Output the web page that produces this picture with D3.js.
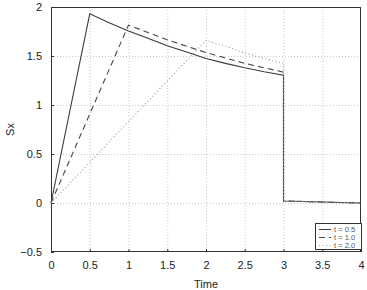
<!DOCTYPE html>
<html><head><meta charset="utf-8">
<script src="https://cdn.jsdelivr.net/npm/d3@7"></script>
<style>body{margin:0;background:#fff}svg{display:block}text{font-family:"Liberation Sans",Arial,sans-serif}</style>
</head><body><svg id="c" width="367" height="290"></svg>
<script>
const xTicks = [0, 0.5, 1, 1.5, 2, 2.5, 3, 3.5, 4];
const yTicks = [-0.5, 0, 0.5, 1, 1.5, 2];
const seriesNames = ["t = 0.5", "t = 1.0", "t = 2.0"];
const s05 = [[0,0],[0.5,1.93],[0.75,1.84],[1,1.755],[1.25,1.68],[1.5,1.605],[1.75,1.54],[2,1.475],[2.25,1.425],[2.5,1.38],[2.75,1.34],[3,1.305],[3,0.02],[3.5,0.01],[4,0.0]];
const s10 = [[0,0],[1,1.815],[1.25,1.74],[1.5,1.665],[1.75,1.6],[2,1.535],[2.25,1.48],[2.5,1.425],[2.75,1.38],[3,1.335],[3,0.02],[3.5,0.01],[4,0.0]];
const s20 = [[0,0],[2,1.66],[2.25,1.6],[2.5,1.53],[2.75,1.475],[3,1.425],[3,0.02],[3.5,0.01],[4,0.0]];
const seriesData = [s05, s10, s20];
const styles = [
  {stroke:"#3c3c3c", dash:null},
  {stroke:"#4a4a4a", dash:"6,4"},
  {stroke:"#9a9a9a", dash:"1,2.5"}
];

const svg = d3.select("#c");
const m = {l:51, r:6, t:7, b:38};
const W = 367, H = 290;
const x = d3.scaleLinear().domain([0,4]).range([m.l, W-m.r]);
const y = d3.scaleLinear().domain([-0.5,2]).range([H-m.b, m.t]);
const fmt = d => d < 0 ? "\u2212" + Math.abs(d) : String(d);

// grid
const g = svg.append("g");
g.selectAll(".gx").data(xTicks.slice(1,-1)).join("line")
  .attr("x1", d=>x(d)+0.5).attr("x2", d=>x(d)+0.5).attr("y1", m.t).attr("y2", H-m.b)
  .attr("stroke","#c8c8c8").attr("stroke-dasharray","1,2");
g.selectAll(".gy").data(yTicks.slice(1,-1)).join("line")
  .attr("y1", d=>Math.round(y(d))+0.5).attr("y2", d=>Math.round(y(d))+0.5).attr("x1", m.l).attr("x2", W-m.r)
  .attr("stroke","#c8c8c8").attr("stroke-dasharray","1,2");

// axes
const xa = svg.append("g").attr("transform", `translate(0,${H-m.b})`)
  .call(d3.axisBottom(x).tickValues(xTicks).tickFormat(fmt).tickSizeInner(-3).tickSizeOuter(0).tickPadding(9));
const ya = svg.append("g").attr("transform", `translate(${m.l},0)`)
  .call(d3.axisLeft(y).tickValues(yTicks).tickFormat(fmt).tickSizeInner(-3).tickSizeOuter(0).tickPadding(9));
[xa, ya].forEach(a => {
  a.select(".domain").remove();
  a.selectAll(".tick line").attr("stroke","#333");
  a.selectAll("text").attr("font-size", 11).attr("fill","#222");
});
// box
svg.append("rect").attr("x", m.l+0.5).attr("y", m.t+0.5).attr("width", W-m.l-m.r-1).attr("height", H-m.t-m.b-1)
  .attr("fill","none").attr("stroke","#333");

// lines
const line = d3.line().x(d=>x(d[0])).y(d=>y(d[1]));
seriesData.forEach((s,i) => {
  svg.append("path").datum(s).attr("d", line).attr("fill","none")
    .attr("stroke", styles[i].stroke).attr("stroke-width", 1.1)
    .attr("stroke-dasharray", styles[i].dash);
});

// labels
svg.append("text").attr("x", (m.l + W - m.r)/2).attr("y", 288).attr("text-anchor","middle")
  .attr("font-size", 11).attr("fill","#222").text("Time");
svg.append("text").attr("transform", `translate(14,${(m.t + H - m.b)/2}) rotate(-90)`).attr("text-anchor","middle")
  .attr("font-size", 11).attr("fill","#222").text("Sx");

// legend
const lg = svg.append("g");
lg.append("rect").attr("x", 315.5).attr("y", 223.5).attr("width", 46).attr("height", 26)
  .attr("fill","#fff").attr("stroke","#333");
seriesNames.forEach((n,i) => {
  const yy = 229.5 + i*8;
  lg.append("line").attr("x1", 319).attr("x2", 331).attr("y1", yy).attr("y2", yy)
    .attr("stroke", styles[i].stroke).attr("stroke-dasharray", styles[i].dash);
  lg.append("text").attr("x", 334).attr("y", yy + 2.8).attr("font-size", 7.5).attr("fill","#555").text(n);
});
</script></body></html>
